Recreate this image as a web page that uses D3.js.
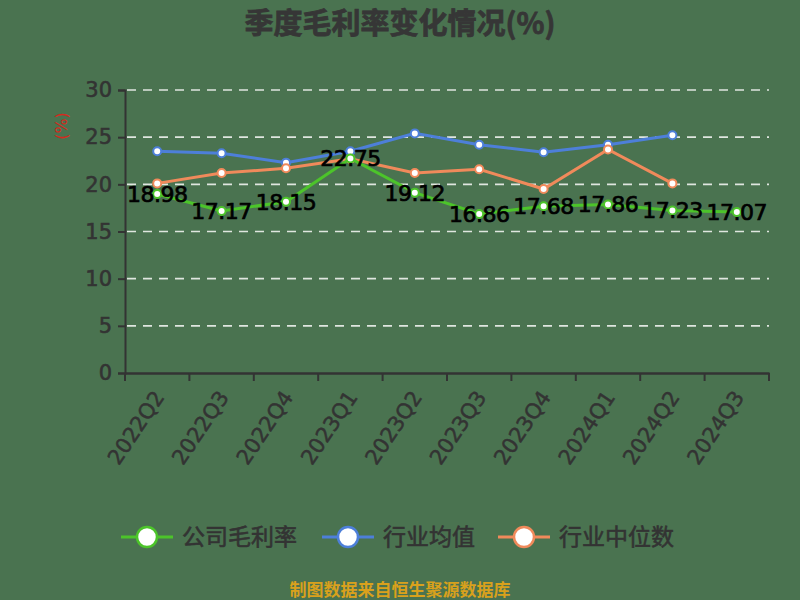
<!DOCTYPE html>
<html>
<head>
<meta charset="utf-8">
<script src="https://cdn.jsdelivr.net/npm/d3@7"></script>
<style>
  html, body { margin: 0; padding: 0; background: #4a7350; }
  svg { display: block; font-family: "Noto Sans CJK SC", "DejaVu Sans", sans-serif; }
</style>
</head>
<body>
<svg id="chart" width="800" height="600"></svg>
<script>
var quarters = ["2022Q2", "2022Q3", "2022Q4", "2023Q1", "2023Q2", "2023Q3", "2023Q4", "2024Q1", "2024Q2", "2024Q3"];
var companyMargin = [18.98, 17.17, 18.15, 22.75, 19.12, 16.86, 17.68, 17.86, 17.23, 17.07];
var industryMean = [23.5, 23.3, 22.3, 23.5, 25.4, 24.2, 23.4, 24.2, 25.2, null];
var industryMedian = [20.1, 21.2, 21.7, 22.7, 21.2, 21.6, 19.5, 23.7, 20.1, null];
var yTicks = [0, 5, 10, 15, 20, 25, 30];
var seriesNames = ["公司毛利率", "行业均值", "行业中位数"];

var svg = d3.select("#chart");
var margin = { left: 125, right: 31, top: 90, bottom: 227 };
var width = 800 - margin.left - margin.right,
  height = 600 - margin.top - margin.bottom;

svg.append("rect").attr("width", 800).attr("height", 600).attr("fill", "#4a7350");

var x = d3.scaleBand().domain(quarters).range([margin.left, margin.left + width]);
var y = d3.scaleLinear().domain([0, 30]).range([margin.top + height, margin.top]);

// title
svg.append("text")
  .attr("x", 400).attr("y", 34)
  .attr("text-anchor", "middle")
  .attr("font-size", 29).attr("font-weight", "bold")
  .attr("fill", "#363636").attr("stroke", "#363636").attr("stroke-width", 0.8)
  .text("季度毛利率变化情况(%)");

// grid
svg.append("g")
  .selectAll("line")
  .data(yTicks.filter(function(d) { return d > 0; }))
  .join("line")
  .attr("x1", margin.left + 2).attr("x2", margin.left + width)
  .attr("y1", function(d) { return y(d); }).attr("y2", function(d) { return y(d); })
  .attr("stroke", "#dfe6df").attr("stroke-width", 1.6)
  .attr("stroke-dasharray", "9,7");

// y axis
var yAxis = svg.append("g")
  .attr("transform", "translate(" + margin.left + ",0)")
  .call(d3.axisLeft(y).tickValues(yTicks).tickSize(7).tickPadding(6));
yAxis.select(".domain").attr("stroke", "#333").attr("stroke-width", 2);
yAxis.selectAll(".tick line").attr("stroke", "#333").attr("stroke-width", 2);
yAxis.selectAll(".tick text")
  .attr("font-size", 21).attr("fill", "#333")
  .attr("stroke", "#333").attr("stroke-width", 0.6)
  .attr("font-family", "'DejaVu Sans', sans-serif");

// y axis name
svg.append("text")
  .attr("transform", "translate(67,126) rotate(-90)")
  .attr("text-anchor", "middle")
  .attr("font-size", 16).attr("fill", "#d42a1e")
  .attr("font-family", "'DejaVu Sans', sans-serif")
  .text("(%)");

// x axis
var xAxis = svg.append("g")
  .attr("transform", "translate(0," + (margin.top + height) + ")")
  .call(d3.axisBottom(x).tickSize(0).tickPadding(0));
xAxis.select(".domain").attr("stroke", "#333").attr("stroke-width", 2.5);
xAxis.selectAll(".tick text")
  .attr("font-size", 21).attr("fill", "#333")
  .attr("stroke", "#333").attr("stroke-width", 0.5)
  .attr("font-family", "'DejaVu Sans', sans-serif")
  .attr("text-anchor", "end")
  .attr("dy", "0.35em")
  .attr("transform", "translate(2,20) rotate(-56)");

// boundary ticks
var bounds = quarters.map(function(q) { return x(q); }).concat([margin.left + width]);
svg.append("g")
  .selectAll("line")
  .data(bounds)
  .join("line")
  .attr("x1", function(d) { return d; }).attr("x2", function(d) { return d; })
  .attr("y1", margin.top + height).attr("y2", margin.top + height + 8)
  .attr("stroke", "#333").attr("stroke-width", 2);

var cx = function(d, i) { return x(quarters[i]) + x.bandwidth() / 2; };
var line = d3.line()
  .defined(function(d) { return d != null; })
  .x(cx)
  .y(function(d) { return y(d); });

var series = [
  { name: seriesNames[1], values: industryMean, color: "#4d7fd9" },
  { name: seriesNames[2], values: industryMedian, color: "#f08a5b" },
  { name: seriesNames[0], values: companyMargin, color: "#4cc42a" }
];

series.forEach(function(s) {
  svg.append("path")
    .datum(s.values)
    .attr("fill", "none")
    .attr("stroke", s.color)
    .attr("stroke-width", 3)
    .attr("d", line);
  svg.append("g")
    .selectAll("circle")
    .data(s.values.map(function(v, i) { return { v: v, i: i }; }).filter(function(d) { return d.v != null; }))
    .join("circle")
    .attr("cx", function(d) { return cx(d.v, d.i); })
    .attr("cy", function(d) { return y(d.v); })
    .attr("r", 4)
    .attr("fill", "#fff")
    .attr("stroke", s.color)
    .attr("stroke-width", 2);
});

// data labels for company margin
svg.append("g")
  .selectAll("text")
  .data(companyMargin)
  .join("text")
  .attr("x", cx)
  .attr("y", function(d) { return y(d); })
  .attr("dy", "0.36em")
  .attr("text-anchor", "middle")
  .attr("font-size", 22)
  .attr("letter-spacing", -0.5)
  .attr("font-family", "'DejaVu Sans', sans-serif")
  .attr("fill", "#000").attr("stroke", "#000").attr("stroke-width", 0.7)
  .text(function(d) { return d.toFixed(2); });

// legend
var legendItems = [
  { name: seriesNames[0], color: "#4cc42a", x: 147 },
  { name: seriesNames[1], color: "#4d7fd9", x: 348 },
  { name: seriesNames[2], color: "#f08a5b", x: 524 }
];
var legend = svg.append("g").attr("transform", "translate(0,537)");
legendItems.forEach(function(d) {
  legend.append("line")
    .attr("x1", d.x - 26).attr("x2", d.x + 26)
    .attr("stroke", d.color).attr("stroke-width", 3);
  legend.append("circle")
    .attr("cx", d.x).attr("r", 10)
    .attr("fill", "#fff").attr("stroke", d.color).attr("stroke-width", 2.5);
  legend.append("text")
    .attr("x", d.x + 35).attr("dy", "0.36em")
    .attr("font-size", 23).attr("fill", "#333")
    .attr("stroke", "#333").attr("stroke-width", 0.6)
    .text(d.name);
});

// footer
svg.append("text")
  .attr("x", 400).attr("y", 596)
  .attr("text-anchor", "middle")
  .attr("font-size", 17).attr("font-weight", "bold")
  .attr("fill", "#d9a11c")
  .text("制图数据来自恒生聚源数据库");
</script>
</body>
</html>
